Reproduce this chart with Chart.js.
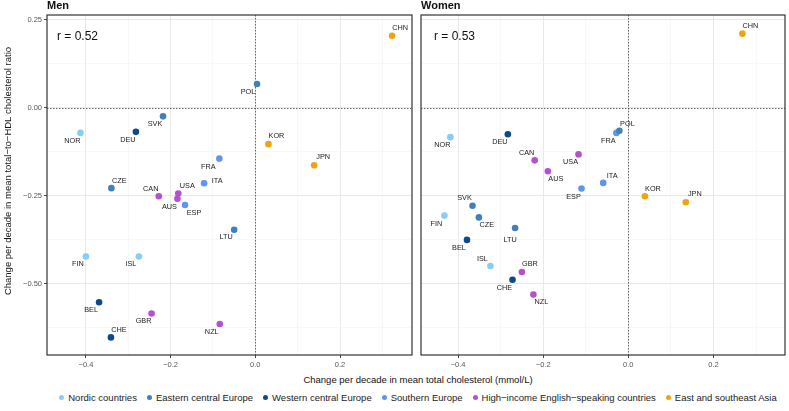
<!DOCTYPE html>
<html>
<head>
<meta charset="utf-8">
<script src="https://cdn.jsdelivr.net/npm/chart.js@4.4.1/dist/chart.umd.min.js"></script>
<style>
  body { margin: 0; background: #fff; }
  #wrap { position: relative; width: 789px; height: 411px; font-family: "Liberation Sans", Arial, sans-serif; }
  #menBox { position: absolute; left: 0; top: 0; width: 416px; height: 372px; }
  #womenBox { position: absolute; left: 416px; top: 0; width: 373px; height: 372px; }
  #xTitle { position: absolute; left: 47px; width: 742px; top: 374px; text-align: center; font-size: 9.5px; color: #111; }
  #legend { position: absolute; left: 47px; width: 742px; top: 392px; text-align: center; font-size: 9.5px; color: #222; white-space: nowrap; }
  #legend span.item { margin: 0 5px; }
  #legend span.dot { display: inline-block; width: 5px; height: 5px; border-radius: 50%; margin-right: 4px; vertical-align: 1px; }
</style>
</head>
<body>
<div id="wrap">
  <div id="menBox"><canvas id="men"></canvas></div>
  <div id="womenBox"><canvas id="women"></canvas></div>
  <div id="xTitle">Change per decade in mean total cholesterol (mmol/L)</div>
  <div id="legend"></div>
</div>
<script>
const regions = ['Nordic countries', 'Eastern central Europe', 'Western central Europe',
                 'Southern Europe', 'High\u2212income English\u2212speaking countries', 'East and southeast Asia'];
const regionColors = ['#86cdf9', '#4080bf', '#0d4a8a', '#5f95ea', '#b550d0', '#efa40c'];

const countries = ['NOR','FIN','ISL','CZE','LTU','POL','SVK','BEL','CHE','DEU','ESP',
                   'FRA','ITA','AUS','CAN','GBR','NZL','USA','CHN','JPN','KOR'];
const countryRegion = [0,0,0,1,1,1,1,2,2,2,3,3,3,4,4,4,4,4,5,5,5];

// change per decade: total cholesterol (x) vs TC/HDL ratio (y)
const menX = [-0.413,-0.400,-0.275,-0.340,-0.050,0.004,-0.218,-0.369,-0.341,-0.282,-0.166,
              -0.085,-0.121,-0.184,-0.228,-0.245,-0.084,-0.182,0.323,0.139,0.031];
const menY = [-0.071,-0.422,-0.422,-0.228,-0.346,0.068,-0.024,-0.552,-0.652,-0.068,-0.276,
              -0.144,-0.214,-0.258,-0.251,-0.584,-0.614,-0.243,0.205,-0.163,-0.103];
const womenX = [-0.418,-0.432,-0.324,-0.351,-0.266,-0.021,-0.366,-0.379,-0.272,-0.283,-0.110,
                -0.028,-0.059,-0.189,-0.220,-0.250,-0.223,-0.117,0.268,0.135,0.039];
const womenY = [-0.083,-0.306,-0.449,-0.311,-0.341,-0.065,-0.278,-0.375,-0.488,-0.075,-0.229,
                -0.071,-0.213,-0.180,-0.149,-0.466,-0.530,-0.132,0.211,-0.268,-0.251];
const menR = 'r = 0.52';
const womenR = 'r = 0.53';

const xMajor = [-0.4, -0.2, 0, 0.2];
const xMinor = [-0.3, -0.1, 0.1, 0.3];
const yMajor = [-0.5, -0.25, 0, 0.25];
const yMinor = [-0.625, -0.375, -0.125, 0.125];

// label placement (pixels from the point), repel-style
const menLabelPos = {
    NOR:[-8,8], FIN:[-8,8], ISL:[-8,8], CZE:[8,-7], LTU:[-8,7], POL:[-9,8], SVK:[-8,8],
    BEL:[-8,8], CHE:[8,-7], DEU:[-8,8], ESP:[9,8], FRA:[-11,8], ITA:[13,-2], AUS:[-8,8],
    CAN:[-8,-7], GBR:[-8,8], NZL:[-8,8], USA:[9,-7], CHN:[8,-8], JPN:[9,-8], KOR:[8,-8]
};
const womenLabelPos = {
    NOR:[-8,8], FIN:[-8,8], ISL:[-8,-7], CZE:[8,8], LTU:[-5,12], POL:[8,-7], SVK:[-8,-8],
    BEL:[-8,8], CHE:[-8,8], DEU:[-8,8], ESP:[-8,8], FRA:[-8,8], ITA:[9,-7], AUS:[8,8],
    CAN:[-8,-7], GBR:[8,-8], NZL:[8,8], USA:[-8,8], CHN:[8,-8], JPN:[9,-8], KOR:[8,-7]
};

const FONT = '"Liberation Sans", Arial, sans-serif';

function fmt(v, d){
    const s = Math.abs(v).toFixed(d);
    return v < -1e-9 ? '\u2212' + s : s;
}

function buildDatasets(xs, ys){
    return regions.map((name, r) => ({
        label: name,
        data: countries.map((c, i) => ({x: xs[i], y: ys[i], code: c}))
                       .filter((p, i) => countryRegion[i] === r),
        backgroundColor: regionColors[r],
        pointRadius: 3.3,
        pointBorderWidth: 0
    }));
}

const isMajor = (list, v) => list.some(m => Math.abs(m - v) < 1e-6);

const panelPlugin = {
    id: 'panel',
    beforeDatasetsDraw(chart, args, opts){
        const {ctx, chartArea: a, scales: {x, y}} = chart;
        ctx.save();
        ctx.strokeStyle = '#444';
        ctx.lineWidth = 0.8;
        ctx.setLineDash([1.5, 1.5]);
        const x0 = Math.round(x.getPixelForValue(0)) + 0.5;
        const y0 = Math.round(y.getPixelForValue(0)) + 0.5;
        ctx.beginPath();
        ctx.moveTo(x0, a.top); ctx.lineTo(x0, a.bottom);
        ctx.moveTo(a.left, y0); ctx.lineTo(a.right, y0);
        ctx.stroke();
        ctx.restore();
    },
    afterDatasetsDraw(chart, args, opts){
        const {ctx, chartArea: a} = chart;
        ctx.save();
        // point labels
        ctx.font = '7.3px ' + FONT;
        ctx.fillStyle = '#222';
        ctx.textAlign = 'center';
        ctx.textBaseline = 'middle';
        chart.data.datasets.forEach((ds, di) => {
            chart.getDatasetMeta(di).data.forEach((pt, j) => {
                const code = ds.data[j].code;
                const off = opts.labelPos[code] || [8, -8];
                ctx.fillText(code, pt.x + off[0], pt.y + off[1]);
            });
        });
        // r value
        ctx.font = '12px ' + FONT;
        ctx.fillStyle = '#111';
        ctx.textAlign = 'left';
        ctx.fillText(opts.rText, a.left + opts.rDx, a.top + 22);
        // panel title
        ctx.font = 'bold 11px ' + FONT;
        ctx.textBaseline = 'alphabetic';
        ctx.fillStyle = '#111';
        ctx.fillText(opts.title, a.left, 9);
        // panel border
        ctx.strokeStyle = '#333';
        ctx.lineWidth = 1.2;
        ctx.strokeRect(a.left, a.top, a.right - a.left, a.bottom - a.top);
        // y axis title (left panel only)
        if(opts.yTitle){
            ctx.font = '9.5px ' + FONT;
            ctx.textAlign = 'center';
            ctx.textBaseline = 'middle';
            ctx.translate(8, 171);
            ctx.rotate(-Math.PI / 2);
            ctx.fillText(opts.yTitle, 0, 0);
        }
        ctx.restore();
    }
};

function makeChart(id, xs, ys, panel){
    const ctx = document.getElementById(id).getContext('2d');
    return new Chart(ctx, {
        type: 'scatter',
        data: { datasets: buildDatasets(xs, ys) },
        plugins: [panelPlugin],
        options: {
            responsive: true,
            maintainAspectRatio: false,
            animation: false,
            layout: { padding: { top: 15, right: panel.padRight, left: 0, bottom: 0 } },
            plugins: {
                legend: { display: false },
                tooltip: { enabled: false },
                panel: panel
            },
            scales: {
                x: {
                    type: 'linear',
                    min: panel.xMin, max: panel.xMax,
                    afterBuildTicks: s => { s.ticks = xMajor.concat(xMinor).sort((a, b) => a - b).map(v => ({value: v})); },
                    afterFit: s => { s.height = 17; },
                    border: { display: false },
                    grid: {
                        color: c => isMajor(xMajor, c.tick.value) ? '#e6e6e6' : '#f3f3f3',
                        lineWidth: c => isMajor(xMajor, c.tick.value) ? 0.9 : 0.6,
                        tickColor: c => isMajor(xMajor, c.tick.value) ? '#333' : 'rgba(0,0,0,0)',
                        tickLength: 3
                    },
                    ticks: {
                        autoSkip: false, maxRotation: 0, padding: 2,
                        color: '#555',
                        font: { family: FONT, size: 7.5 },
                        callback: v => isMajor(xMajor, v) ? fmt(v, 1) : ''
                    }
                },
                y: {
                    type: 'linear',
                    min: -0.702, max: 0.264,
                    afterBuildTicks: s => { s.ticks = yMajor.concat(yMinor).sort((a, b) => a - b).map(v => ({value: v})); },
                    afterFit: s => { s.width = panel.yWidth; },
                    border: { display: false },
                    grid: {
                        color: c => isMajor(yMajor, c.tick.value) ? '#e6e6e6' : '#f3f3f3',
                        lineWidth: c => isMajor(yMajor, c.tick.value) ? 0.9 : 0.6,
                        tickColor: c => isMajor(yMajor, c.tick.value) ? '#333' : 'rgba(0,0,0,0)',
                        tickLength: 3,
                        drawTicks: panel.showY
                    },
                    ticks: {
                        display: panel.showY,
                        autoSkip: false, padding: 2,
                        color: '#555',
                        font: { family: FONT, size: 7.5 },
                        callback: v => isMajor(yMajor, v) ? fmt(v, 2) : ''
                    }
                }
            }
        }
    });
}

makeChart('men', menX, menY, {
    title: 'Men', rText: menR, rDx: 10, labelPos: menLabelPos,
    xMin: -0.492, xMax: 0.370, yWidth: 47, padRight: 3, showY: true,
    yTitle: 'Change per decade in mean total\u2212to\u2212HDL cholesterol ratio'
});
makeChart('women', womenX, womenY, {
    title: 'Women', rText: womenR, rDx: 13, labelPos: womenLabelPos,
    xMin: -0.487, xMax: 0.368, yWidth: 5, padRight: 1, showY: false,
    yTitle: null
});

// legend
document.getElementById('legend').innerHTML = regions.map((r, i) =>
    `<span class="item"><span class="dot" style="background:${regionColors[i]}"></span>${r}</span>`
).join('');
</script>
</body>
</html>
